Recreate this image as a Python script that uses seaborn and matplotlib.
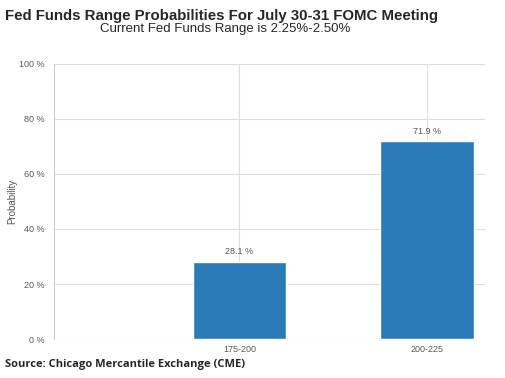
import matplotlib
matplotlib.use("Agg")
import matplotlib.pyplot as plt
import seaborn as sns
import pandas as pd

# target ranges (bps) and their probabilities
ranges = ["175-200", "200-225"]
probs = [28.1, 71.9]

df = pd.DataFrame({"range": ranges, "prob": probs})

sns.set_style("white")
plt.rcParams["font.family"] = ["Liberation Sans", "DejaVu Sans"]

fig = plt.figure(figsize=(5.05, 3.78), dpi=100)
ax = fig.add_axes([0.107, 0.103, 0.853, 0.728])

sns.barplot(data=df, x="range", y="prob", color="#2a7ab8", saturation=1,
            width=0.5, ax=ax, zorder=3)

ax.set_ylim(0, 100)
ax.set_xlim(-0.99, 1.31)
ax.set_yticks([0, 20, 40, 60, 80, 100])
ax.set_yticklabels([f"{v} %" for v in [0, 20, 40, 60, 80, 100]])
ax.grid(True, color="#dddddd", linewidth=0.8, zorder=0)
ax.tick_params(axis="both", labelsize=6.5, colors="#555555", length=3, width=0.6)
ax.tick_params(axis="y", color="#cccccc")
ax.tick_params(axis="x", length=0, pad=4)
for s in ["top", "right", "bottom"]:
    ax.spines[s].set_visible(False)
ax.spines["left"].set_color("#cccccc")
ax.spines["left"].set_linewidth(0.8)

ax.set_xlabel("")
ax.set_ylabel("Probability", fontsize=7, color="#555555")
ax.yaxis.set_label_coords(-0.085, 0.5)

for i, p in enumerate(probs):
    ax.text(i, p + 2, f"{p} %", ha="center", va="bottom", fontsize=6.5, color="#555555")

fig.text(0.01, 0.975, "Fed Funds Range Probabilities For July 30-31 FOMC Meeting",
         fontsize=10.8, fontweight="heavy", ha="left", va="top")
fig.text(0.445, 0.94, "Current Fed Funds Range is 2.25%-2.50%",
         fontsize=9.5, ha="center", va="top")
fig.text(0.01, 0.02, "Source: Chicago Mercantile Exchange (CME)",
         fontsize=8, fontweight="bold", ha="left", va="bottom", family="Open Sans")

fig.savefig("out.png", dpi=100)
